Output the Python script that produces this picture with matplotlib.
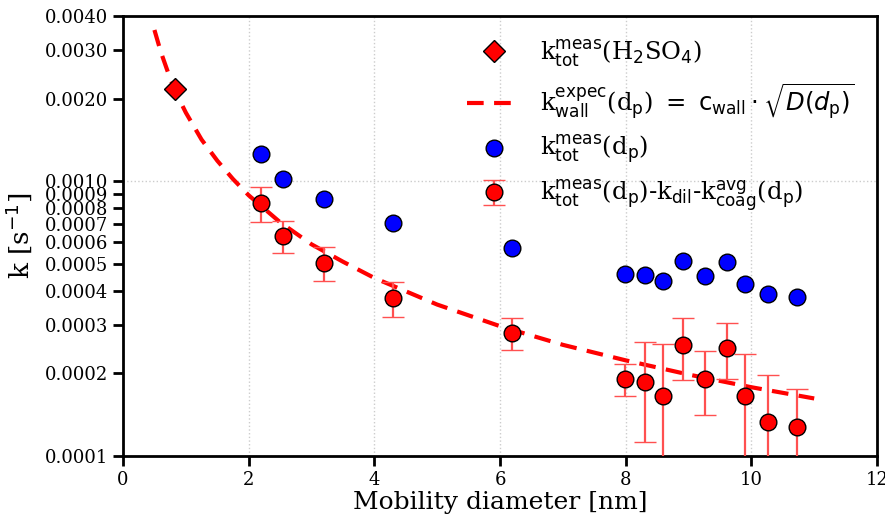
import matplotlib
matplotlib.use('Agg')
import matplotlib.pyplot as plt

# H2SO4 reference point
dp_acid = [0.83]
k_acid = [0.00217]

# total measured loss rate
dp_meas = [2.2, 2.55, 3.2, 4.3, 6.19, 7.99, 8.31, 8.6, 8.91, 9.26, 9.61, 9.9, 10.27, 10.73]
k_tot = [0.00126, 0.00102, 0.000863, 0.000706, 0.000572, 0.00046, 0.000458, 0.000434,
         0.000513, 0.000452, 0.000509, 0.000423, 0.000389, 0.000379]

# corrected loss rate (minus dilution and coagulation) with errors
k_wall = [0.000834, 0.000633, 0.000505, 0.000376, 0.000281, 0.000191, 0.000186, 0.000165,
          0.000254, 0.000191, 0.000247, 0.000165, 0.000133, 0.000128]
k_wall_err = [0.00012, 0.000085, 0.00007, 0.000054, 0.000037, 0.000025, 0.000074, 0.000091,
              0.000065, 0.00005, 0.000057, 0.00007, 0.000064, 0.000047]

# expected wall loss curve
dp_fit = [0.5, 0.6, 0.75, 0.9, 1.0, 1.25, 1.5, 1.75, 2.0, 2.5, 3.0, 3.5, 4.0, 5.0, 6.0, 7.0, 8.0, 9.0, 10.0, 11.0]
k_fit = [0.00356, 0.00297, 0.00237, 0.00198, 0.00178, 0.00142, 0.00119, 0.00102, 0.00089, 0.00071,
         0.00059, 0.00051, 0.000445, 0.000356, 0.000297, 0.000254, 0.000223, 0.000198, 0.000178, 0.000162]

ytick_vals = [0.0001, 0.0002, 0.0003, 0.0004, 0.0005, 0.0006, 0.0007, 0.0008, 0.0009,
              0.001, 0.002, 0.003, 0.004]
xtick_vals = [0, 2, 4, 6, 8, 10, 12]

plt.rcParams['font.family'] = 'DejaVu Serif'
plt.rcParams['mathtext.fontset'] = 'dejavusans'

fig = plt.figure(figsize=(8.85, 5.19), dpi=100)
ax = fig.add_axes([0.139, 0.1214, 0.852, 0.8476])

line_fit, = ax.plot(dp_fit, k_fit, '--', color='red', lw=3, dashes=(4, 2.5), zorder=3)
eb = ax.errorbar(dp_meas, k_wall, yerr=k_wall_err, fmt='o', color='red', ecolor='#ff5050',
                 elinewidth=1.6, capsize=8, capthick=1.6, ms=12, mfc='red', mec='black',
                 mew=1.0, zorder=4)
blue, = ax.plot(dp_meas, k_tot, 'o', color='blue', ms=12, mec='black', mew=1.0, ls='none', zorder=4)
acid, = ax.plot(dp_acid, k_acid, 'D', color='red', ms=11, mec='black', mew=1.0, ls='none', zorder=5)

ax.set_yscale('log')
ax.set_xlim(0, 12)
ax.set_ylim(0.0001, 0.004)
ax.yaxis.set_minor_locator(matplotlib.ticker.NullLocator())
ax.set_yticks(ytick_vals)
ax.set_yticklabels(['%.4f' % v for v in ytick_vals])
ax.set_xticks(xtick_vals)

ax.grid(True, which='major', ls=':', color='#cccccc', lw=1)
for tk, v in zip(ax.yaxis.get_major_ticks(), ytick_vals):
    if v not in (0.0001, 0.001):
        tk.gridline.set_visible(False)

for s in ax.spines.values():
    s.set_linewidth(2)
ax.tick_params(axis='both', direction='out', length=7, width=2, labelsize=13)
ax.tick_params(axis='both', which='minor', length=0)

ax.set_xlabel('Mobility diameter [nm]', fontsize=18, labelpad=2)
ax.set_ylabel(r'k [s$^{-1}$]', fontsize=19, labelpad=8)

labels = [r'k$_{\rm tot}^{\rm meas}$(H$_2$SO$_4$)',
          r'k$_{\rm wall}^{\rm expec}$(d$_{\rm p}$) $=$ $\mathrm{c}_{\rm wall} \cdot \sqrt{D(d_{\rm p})}$',
          r'k$_{\rm tot}^{\rm meas}$(d$_{\rm p}$)',
          r'k$_{\rm tot}^{\rm meas}$(d$_{\rm p}$)-k$_{\rm dil}$-k$_{\rm coag}^{\rm avg}$(d$_{\rm p}$)']
ax.legend([acid, line_fit, blue, eb], labels, loc='upper right', frameon=False, fontsize=17.5,
          handlelength=2.2, borderaxespad=0.5, labelspacing=0.5)

fig.savefig('out.png', dpi=100)
